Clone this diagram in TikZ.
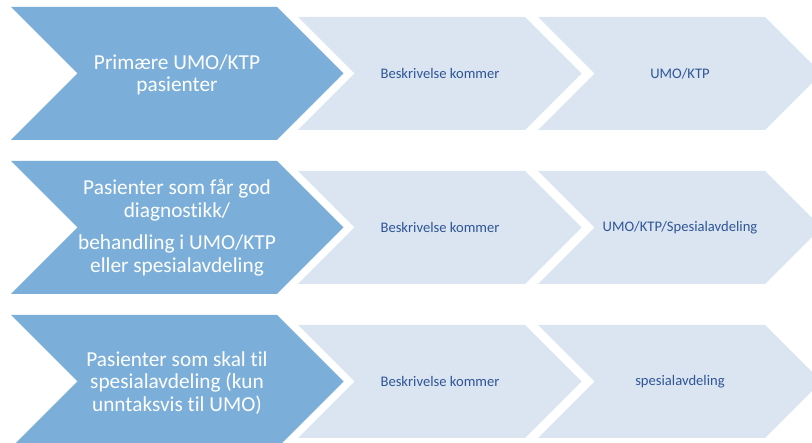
\documentclass[tikz,border=0pt]{standalone}
\usepackage{fontspec}
\setmainfont[Ligatures=NoCommon]{Carlito}

\definecolor{stepdark}{RGB}{123,175,217}
\definecolor{steplight}{RGB}{218,229,241}
\definecolor{steptext}{RGB}{47,85,151}

\tikzset{
    bigstep/.style={fill=stepdark},
    smallstep/.style={fill=steplight},
    bigtext/.style={text=white, align=center, font=\fontsize{21.3}{22.5}\selectfont},
    smalltext/.style={text=steptext, font=\fontsize{14.6}{16}\selectfont},
}

\begin{document}
\begin{tikzpicture}[x=1pt, y=-1pt]
        \useasboundingbox (0,0) rectangle (812,443);
        \clip (0,0) rectangle (812,443);

        % Chevrons, one row each
        \foreach \y in {0,154,308} {
            \fill[bigstep] (11,\y+7) -- (277,\y+7) -- (343.5,\y+73.5) -- (277,\y+140)
                -- (11,\y+140) -- (77.5,\y+73.5) -- cycle;
            \fill[smallstep] (298,\y+17) -- (525,\y+17) -- (581.5,\y+73.5) -- (525,\y+130)
                -- (298,\y+130) -- (354.5,\y+73.5) -- cycle;
            \fill[smallstep] (538,\y+17) -- (765,\y+17) -- (821.5,\y+73.5) -- (765,\y+130)
                -- (538,\y+130) -- (594.5,\y+73.5) -- cycle;
        }

        % Row 1
        \node[bigtext] (grp1) at (177,75) {Primære UMO/KTP\\pasienter};
        \node[smalltext] (desc1) at (440,73.5) {Beskrivelse kommer};
        \node[smalltext] (place1) at (680,73.5) {UMO/KTP};

        % Row 2
        \node[bigtext] (grp2) at (177,228) {Pasienter som får god\\diagnostikk/\\[10pt]behandling i UMO/KTP\\eller spesialavdeling};
        \node[smalltext] (desc2) at (440,227.5) {Beskrivelse kommer};
        \node[smalltext] (place2) at (680,227.5) {UMO/KTP/Spesialavdeling};

        % Row 3
        \node[bigtext] (grp3) at (177,383) {Pasienter som skal til\\spesialavdeling (kun\\unntaksvis til UMO)};
        \node[smalltext] (desc3) at (440,381.5) {Beskrivelse kommer};
        \node[smalltext] (place3) at (680,381.5) {spesialavdeling};

    \end{tikzpicture}
\end{document}
